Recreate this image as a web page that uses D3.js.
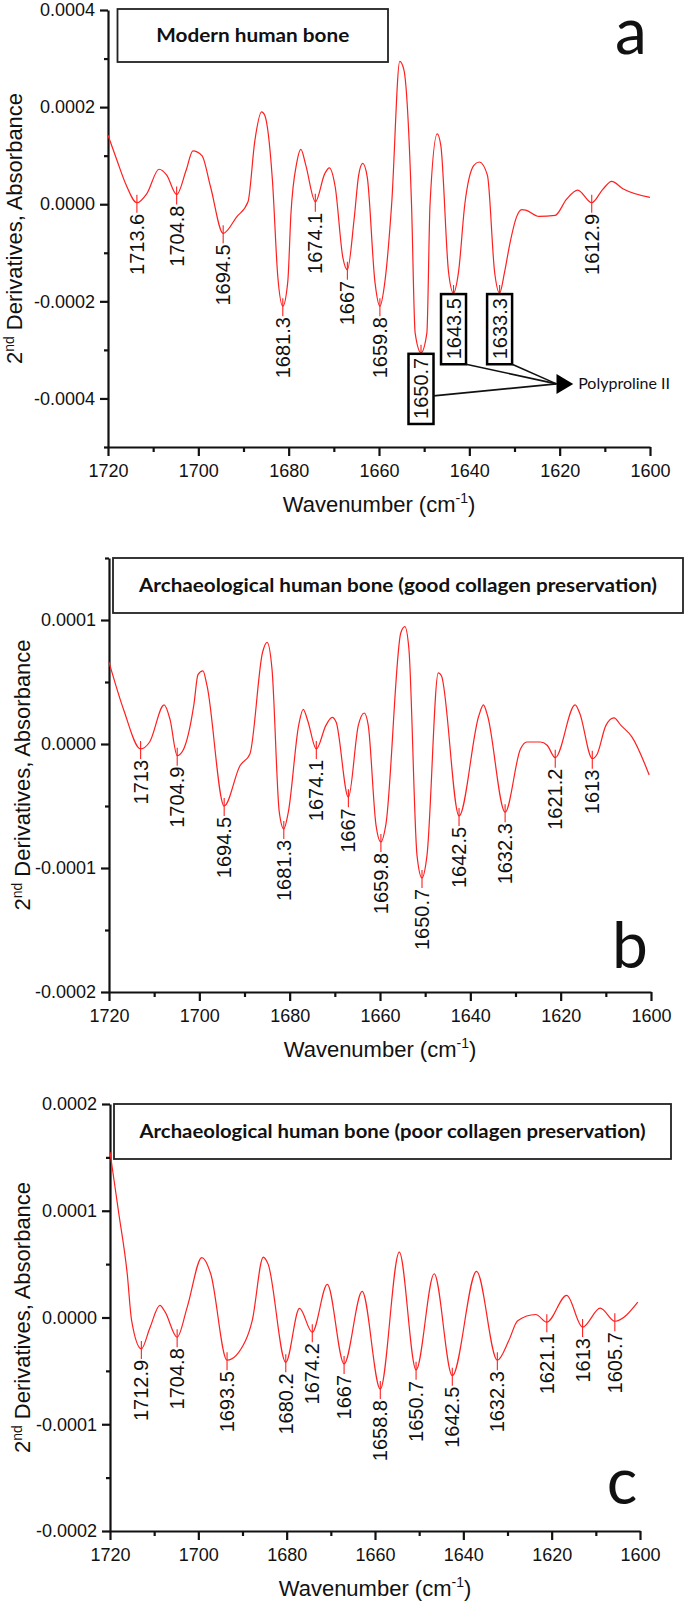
<!DOCTYPE html>
<html>
<head>
<meta charset="utf-8">
<script src="https://cdnjs.cloudflare.com/ajax/libs/d3/7.8.5/d3.min.js"></script>
<style>
  body { margin: 0; background: #fff; }
  svg { display: block; }
</style>
</head>
<body>
<div id="chart"></div>
<script>
// ---- data ----
const wavenumberTicks = [1720, 1700, 1680, 1660, 1640, 1620, 1600];
const wavenumberMinor = [1710, 1690, 1670, 1650, 1630, 1610];

const panelTitles = [
    "Modern human bone",
    "Archaeological human bone (good collagen preservation)",
    "Archaeological human bone (poor collagen preservation)"
];
const panelLetters = ["a", "b", "c"];

// a: modern bone
const modernRange = [-0.0005, 0.0004];
const modernYTicks = [0.0004, 0.0002, 0, -0.0002, -0.0004];
const modernYMinor = [0.0003, 0.0001, -0.0001, -0.0003, -0.0005];
const modernWn = [1720, 1718, 1716, 1713.6, 1711.4, 1708.7, 1707, 1704.8, 1702.7, 1701.2, 1699.2, 1697.3,
    1694.5, 1691.5, 1689, 1687.5, 1686, 1685.3, 1683.6, 1682.4, 1681.3, 1680.2, 1679.5, 1678.2, 1677.3, 1676.2, 1674.1,
    1672, 1671, 1669.7, 1668, 1667, 1665.5, 1664.5, 1663.6, 1662.6, 1660.9, 1659.8, 1658.7, 1657.2, 1655.4, 1654.5,
    1652.8, 1652, 1650.7, 1649.4, 1648.7, 1647.1, 1646.3, 1644.6, 1643.5, 1642.4, 1641, 1639, 1637.8, 1636,
    1634.4, 1633.3, 1632.2, 1631, 1629.5,
    1628.4, 1627.5, 1624.6, 1621, 1618.5, 1616, 1612.9, 1610.5, 1608.5, 1606, 1600];
const modernVal = [0.000142, 0.00009, 0.00004, 0.000003, 0.000022, 0.000072, 0.00006, 0.00002, 0.00007, 0.00011, 0.0001, 0.000036,
    -0.00006, -0.000026, 0.000005, 0.00013, 0.00019, 0.000183, 0.00005, -0.00015, -0.00021, -0.00016, -0.00002, 0.000086, 0.000113, 0.00008, 0.000005,
    0.000063, 0.000075, 0.000036, -0.00011, -0.000135, -0.00003, 0.00006, 0.000084, 0.000056, -0.00016, -0.00021, -0.00016, 0.0, 0.000294, 0.000277,
    0.0, -0.000265, -0.000306, -0.000265, 0.0, 0.000145, 0.00012, -0.00014, -0.000183, -0.00014, 0.0, 0.00008, 0.000087, 0.00006,
    -0.00014, -0.000183, -0.00014, -0.00008, -0.000025,
    -0.000011, -0.000012, -0.000025, -0.000023, 0.00001, 0.000029, 0.000003, 0.00003, 0.000047, 0.000032, 0.000014];
const modernPeaks = ["1713.6", "1704.8", "1694.5", "1681.3", "1674.1", "1667", "1659.8", "1650.7", "1643.5", "1633.3", "1612.9"];
const modernBoxed = ["1650.7", "1643.5", "1633.3"];

// b: good collagen preservation
const goodRange = [-0.0002, 0.00015];
const goodYTicks = [0.0001, 0, -0.0001, -0.0002];
const goodYMinor = [0.00015, 0.00005, -0.00005, -0.00015];
const goodWn = [1720, 1716.7, 1713, 1711, 1707.8, 1706.5, 1704.9, 1703.6, 1701.2, 1700.3, 1699.2, 1698.3,
    1694.5, 1691, 1688.8, 1686, 1685, 1683.9, 1682.3, 1681.3, 1680.3, 1678, 1677, 1676, 1674.1, 1672, 1670.6, 1669.7,
    1667, 1664.8, 1663.5, 1662.6, 1660.9, 1659.8, 1658.7, 1655.4, 1654.5, 1653.6, 1651.8, 1650.7, 1649.6, 1647.1, 1646.4, 1642.5,
    1638.1, 1637.1, 1636.2, 1632.3, 1628.9, 1627.5, 1624.5, 1623, 1621.2, 1616.8, 1615.8, 1613, 1611.9,
    1610, 1608.2, 1606.6, 1604.2, 1600.4];
const goodVal = [0.000066, 0.000027, -0.000004, 0.0000016, 0.0000315, 0.00002, -0.0000094, -0.000005, 0.000032, 0.000056, 0.000059, 0.000047,
    -0.00005, -0.0000175, -0.000008, 0.000074, 0.000082, 0.00006, -0.000055, -0.0000685, -0.000055, 0.0000153, 0.000028, 0.0000188, -0.000004, 0.0000148, 0.0000215, 0.0000175,
    -0.000043, 0.000015, 0.000025, 0.000015, -0.000065, -0.000079, -0.000065, 0.0000895, 0.0000946, 0.0000766, -0.00009, -0.000108, -0.00009, 0.0000573, 0.000055, -0.000058,
    0.000023, 0.0000315, 0.000023, -0.000055, -0.000004, 0.0000016, 0.0000016, -0.000001, -0.000011, 0.0000315, 0.000025, -0.0000118, -0.000008,
    0.0000148, 0.000021, 0.0000148, 0.0000056, -0.000025];
const goodPeaks = ["1713", "1704.9", "1694.5", "1681.3", "1674.1", "1667", "1659.8", "1650.7", "1642.5", "1632.3", "1621.2", "1613"];

// c: poor collagen preservation
const poorRange = [-0.0002, 0.0002];
const poorYTicks = [0.0002, 0.0001, 0, -0.0001, -0.0002];
const poorYMinor = [0.00015, 0.00005, -0.00005, -0.00015];
const poorWn = [1720, 1718.1, 1716.1, 1715.1, 1712.9, 1711, 1708.7, 1707.5, 1704.8, 1702.5, 1699.2, 1697.2,
    1693.5, 1689.3, 1687.8, 1685.3, 1684.2, 1680.2, 1677.1, 1674.2, 1670.8, 1667, 1662.9, 1658.8,
    1654.5, 1650.7, 1646.6, 1642.5, 1637, 1632.3, 1629.7, 1627.7, 1623.6, 1621.1, 1616.6, 1613,
    1609, 1605.7, 1600.5];
const poorVal = [0.000155, 0.0001, 0.000041, -0.000003, -0.0000294, -0.00001, 0.0000113, 0.000005, -0.0000185, 0.00001, 0.000056, 0.000041,
    -0.00004, -0.0000216, -0.000003, 0.0000566, 0.00005, -0.000042, 0.0000085, -0.0000138, 0.000031, -0.0000435, 0.0000244, -0.000067,
    0.0000613, -0.000049, 0.000041, -0.0000545, 0.0000432, -0.00004, -0.0000216, -0.000003, 0.0000028, -0.0000044, 0.0000207, -0.000009,
    0.0000088, -0.0000035, 0.0000144];
const poorPeaks = ["1712.9", "1704.8", "1693.5", "1680.2", "1674.2", "1667", "1658.8", "1650.7", "1642.5", "1632.3", "1621.1", "1613", "1605.7"];

// ---- drawing ----
const svg = d3.select("#chart").append("svg")
    .attr("width", 685)
    .attr("height", 1602);
svg.append("rect").attr("width", 685).attr("height", 1602).attr("fill", "#fff");

const axisFont = "'Liberation Sans', Arial, sans-serif";
const labelFont = "Lato, 'Open Sans', sans-serif";
const red = "#ff1f1f";

const panels = [
    { wn: modernWn, val: modernVal, peaks: modernPeaks, boxed: modernBoxed, range: modernRange,
      yTicks: modernYTicks, yMinor: modernYMinor, left: 108, right: 650, top: 10, bottom: 447,
      box: [117.5, 9, 270.5, 53], titleLen: 193, letterPos: [631, 54], yTitleX: 22 },
    { wn: goodWn, val: goodVal, peaks: goodPeaks, boxed: [], range: goodRange,
      yTicks: goodYTicks, yMinor: goodYMinor, left: 109, right: 651, top: 558, bottom: 992,
      box: [113, 558, 570, 55], titleLen: 518, letterPos: [630, 968], yTitleX: 30 },
    { wn: poorWn, val: poorVal, peaks: poorPeaks, boxed: [], range: poorRange,
      yTicks: poorYTicks, yMinor: poorYMinor, left: 110, right: 640, top: 1104, bottom: 1531,
      box: [114, 1104, 557, 55], titleLen: 506, letterPos: [622, 1504], yTitleX: 30 }
];

// value of a curve at a given wavenumber (linear between read points)
function valueAt(wn, val, w) {
    for (let i = 0; i < wn.length - 1; i++) {
        if (wn[i] >= w && wn[i + 1] <= w) {
            const t = (wn[i] - w) / (wn[i] - wn[i + 1]);
            return val[i] + t * (val[i + 1] - val[i]);
        }
    }
    return 0;
}

const yFormat = v => (v < -1e-12 ? "-" : "") + Math.abs(v).toFixed(4);

function styleAxis(sel) {
    sel.attr("font-family", axisFont).attr("font-size", 18);
    sel.selectAll("path, line").attr("stroke", "#111").attr("stroke-width", 2.2);
    sel.selectAll("text").attr("fill", "#111");
}

panels.forEach((p, i) => {
    const x = d3.scaleLinear().domain([1720, 1600]).range([p.left, p.right]);
    const y = d3.scaleLinear().domain(p.range).range([p.bottom, p.top]);
    const g = svg.append("g");

    // minor ticks
    g.append("g")
        .attr("transform", `translate(${p.left},0)`)
        .call(d3.axisLeft(y).tickValues(p.yMinor).tickSize(4).tickSizeOuter(0).tickFormat(""))
        .call(styleAxis)
        .call(a => a.select(".domain").remove());
    g.append("g")
        .attr("transform", `translate(0,${p.bottom})`)
        .call(d3.axisBottom(x).tickValues(wavenumberMinor).tickSize(5).tickSizeOuter(0).tickFormat(""))
        .call(styleAxis)
        .call(a => a.select(".domain").remove());

    // major ticks + axis lines
    g.append("g")
        .attr("transform", `translate(${p.left},0)`)
        .call(d3.axisLeft(y).tickValues(p.yTicks).tickSize(8).tickPadding(5).tickSizeOuter(0).tickFormat(yFormat))
        .call(styleAxis);
    g.append("g")
        .attr("transform", `translate(0,${p.bottom})`)
        .call(d3.axisBottom(x).tickValues(wavenumberTicks).tickSize(9).tickPadding(8).tickSizeOuter(0).tickFormat(d3.format("d")))
        .call(styleAxis);

    // spectrum
    const line = d3.line()
        .x(d => x(d[0]))
        .y(d => y(d[1]))
        .curve(d3.curveMonotoneX);
    g.append("path")
        .datum(d3.zip(p.wn, p.val))
        .attr("d", line)
        .attr("fill", "none")
        .attr("stroke", red)
        .attr("stroke-width", 1.2);

    // peak labels
    const boxes = {};
    p.peaks.forEach(label => {
        const w = +label;
        const px = x(w);
        const py = y(valueAt(p.wn, p.val, w));
        const boxed = p.boxed.includes(label);
        g.append("line")
            .attr("x1", px).attr("x2", px)
            .attr("y1", py - 8).attr("y2", py + (boxed ? 1 : 10))
            .attr("stroke", red)
            .attr("stroke-width", 1.1);
        const off = boxed ? 5 : 11;
        const t = g.append("text")
            .attr("transform", `translate(${px},${py + off}) rotate(-90)`)
            .attr("text-anchor", "end")
            .attr("dy", "0.35em")
            .attr("font-family", axisFont)
            .attr("font-size", 20)
            .attr("fill", "#111")
            .text(label);
        if (boxed) {
            const len = t.node().getComputedTextLength();
            const b = { x: px - 12.5, y: py + 1, w: 25, h: len + 9 };
            boxes[label] = b;
            g.append("rect")
                .attr("x", b.x).attr("y", b.y)
                .attr("width", b.w).attr("height", b.h)
                .attr("fill", "none")
                .attr("stroke", "#000")
                .attr("stroke-width", 2.5);
        }
    });

    // Polyproline II annotation (panel a)
    if (p.boxed.length) {
        const bx = x(1620.7), by = y(-0.00037);
        const starts = [
            [boxes["1650.7"].x + 25, boxes["1650.7"].y + boxes["1650.7"].h * 0.6],
            [boxes["1643.5"].x + 25, boxes["1643.5"].y + boxes["1643.5"].h],
            [boxes["1633.3"].x + 25, boxes["1633.3"].y + boxes["1633.3"].h]
        ];
        starts.forEach(s => {
            g.append("line")
                .attr("x1", s[0]).attr("y1", s[1])
                .attr("x2", bx).attr("y2", by)
                .attr("stroke", "#111")
                .attr("stroke-width", 1.6);
        });
        const tipX = x(1617);
        g.append("path")
            .attr("d", `M${bx},${by - 10}L${tipX},${by}L${bx},${by + 10}Z`)
            .attr("fill", "#000");
        g.append("text")
            .attr("x", x(1615.9))
            .attr("y", by + 5)
            .attr("font-family", labelFont)
            .attr("font-size", 16)
            .attr("fill", "#111")
            .text("Polyproline II");
    }

    // title box
    g.append("rect")
        .attr("x", p.box[0]).attr("y", p.box[1])
        .attr("width", p.box[2]).attr("height", p.box[3])
        .attr("fill", "#fff")
        .attr("stroke", "#222")
        .attr("stroke-width", 1.8);
    g.append("text")
        .attr("x", p.box[0] + p.box[2] / 2)
        .attr("y", p.box[1] + p.box[3] / 2 + 6.5)
        .attr("text-anchor", "middle")
        .attr("font-family", labelFont)
        .attr("font-weight", "bold")
        .attr("font-size", 18)
        .attr("textLength", p.titleLen)
        .attr("lengthAdjust", "spacingAndGlyphs")
        .attr("fill", "#111")
        .text(panelTitles[i]);

    // panel letter
    g.append("text")
        .attr("x", p.letterPos[0])
        .attr("y", p.letterPos[1])
        .attr("text-anchor", "middle")
        .attr("font-family", labelFont)
        .attr("font-size", 64)
        .attr("fill", "#111")
        .text(panelLetters[i]);

    // axis titles
    const xt = g.append("text")
        .attr("x", (p.left + p.right) / 2)
        .attr("y", p.bottom + 65)
        .attr("text-anchor", "middle")
        .attr("font-family", axisFont)
        .attr("font-size", 22)
        .attr("fill", "#111");
    xt.append("tspan").text("Wavenumber (cm");
    xt.append("tspan").attr("font-size", 14).attr("dy", -9).text("-1");
    xt.append("tspan").attr("dy", 9).text(")");

    const yt = g.append("text")
        .attr("transform", `translate(${p.yTitleX},${(p.top + p.bottom) / 2}) rotate(-90)`)
        .attr("text-anchor", "middle")
        .attr("font-family", axisFont)
        .attr("font-size", 22)
        .attr("fill", "#111");
    yt.append("tspan").text("2");
    yt.append("tspan").attr("font-size", 14).attr("dy", -8).text("nd");
    yt.append("tspan").attr("dy", 8).text(" Derivatives, Absorbance");
});
</script>
</body>
</html>
